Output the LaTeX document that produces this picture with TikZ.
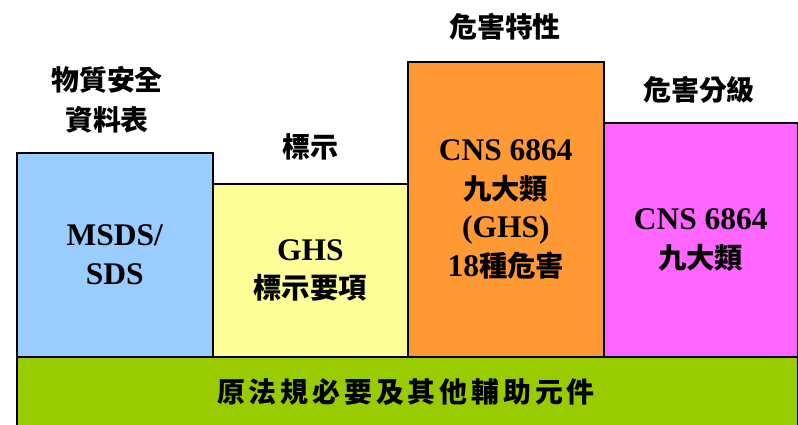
\documentclass[tikz,border=0pt]{standalone}
\usepackage{fontspec}
\setmainfont{Liberation Serif}
\newfontfamily\cjkfont{Noto Sans CJK TC}[Scale=0.9]
\newcommand{\zh}[1]{{\cjkfont\bfseries #1}}
\newcommand{\zhs}[1]{{\cjkfont\bfseries\addfontfeature{LetterSpace=14}#1}}
\definecolor{cblue}{HTML}{99CCFF}
\definecolor{cyellow}{HTML}{FFFF99}
\definecolor{corange}{HTML}{FF9933}
\definecolor{cmag}{HTML}{FF66FF}
\definecolor{cgreen}{HTML}{99CC00}
\begin{document}
\begin{tikzpicture}[x=1pt,y=-1pt,
  box/.style={draw=black,line width=1.6pt,anchor=north west,inner sep=0pt,
    align=center,font=\bfseries\fontsize{31.5}{38.5}\selectfont},
  toplabel/.style={align=center,inner sep=0pt,font=\fontsize{31}{40}\selectfont}]
\useasboundingbox (0,0) rectangle (798,424);
\node[box,fill=cgreen,minimum width=781pt,minimum height=80pt] (base) at (16,356) {};
\node[box,fill=cblue,minimum width=196pt,minimum height=204pt] (msds) at (16,152) {MSDS/\\SDS};
\node[box,fill=cyellow,minimum width=195pt,minimum height=173pt] (ghs) at (212,183) {GHS\\\zh{標示要項}};
\node[box,fill=corange,minimum width=196pt,minimum height=295pt] (cns) at (407,61) {CNS 6864\\\zh{九大類}\\(GHS)\\18\zh{種危害}};
\node[box,fill=cmag,minimum width=194pt,minimum height=234pt] (cls) at (603,122) {CNS 6864\\\zh{九大類}};
\node[inner sep=0pt,font=\fontsize{31}{38}\selectfont] (basetext) at (406,392) {\zhs{原法規必要及其他輔助元件}};
\node[toplabel] (l1) at (107,100) {\zh{物質安全}\\\zh{資料表}};
\node[toplabel] (l2) at (310,147) {\zh{標示}};
\node[toplabel] (l3) at (505,27) {\zh{危害特性}};
\node[toplabel] (l4) at (699,90) {\zh{危害分級}};
\end{tikzpicture}
\end{document}
